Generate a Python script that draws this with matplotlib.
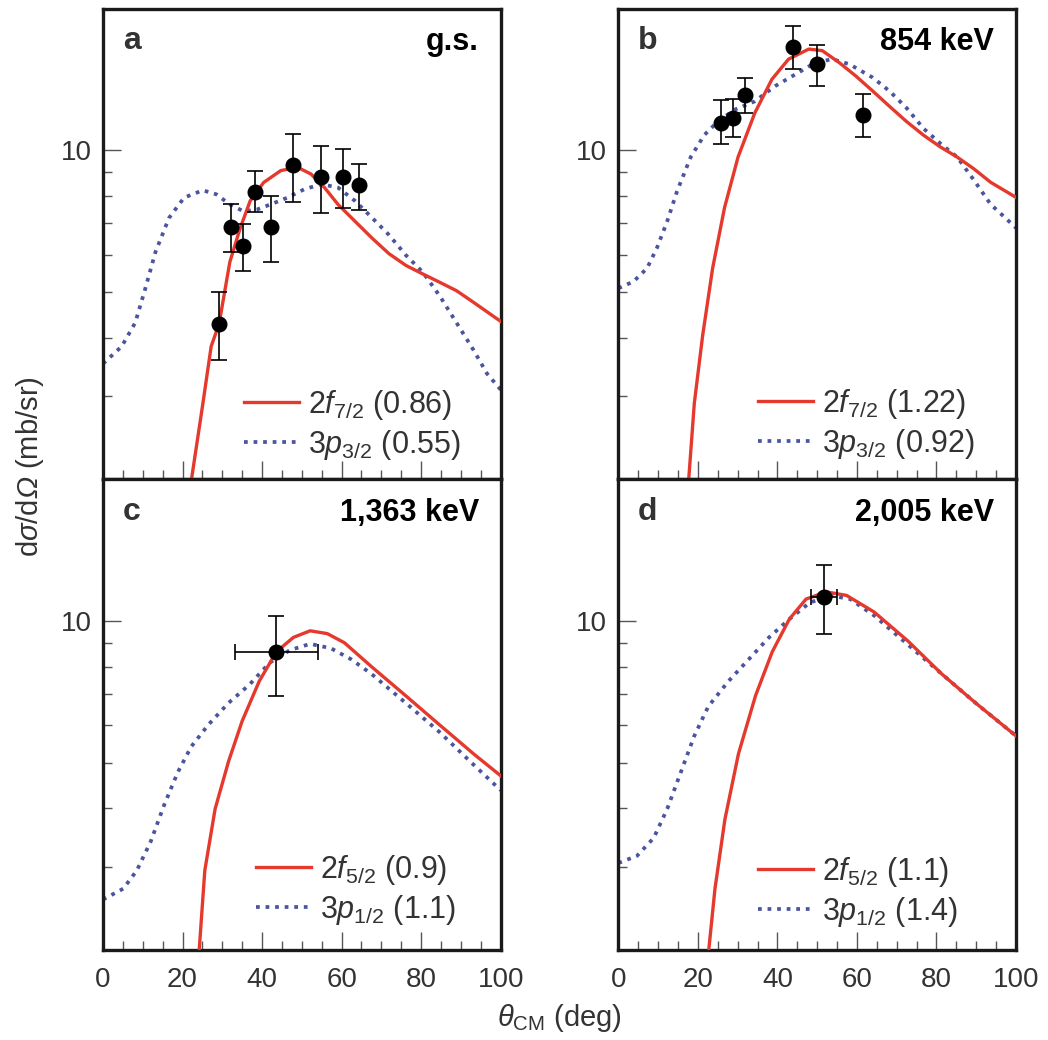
import numpy as np
from matplotlib import pyplot as plt
from matplotlib.ticker import FixedLocator, NullFormatter, FixedFormatter

plt.rcParams['font.family'] = ['Liberation Sans', 'DejaVu Sans']
plt.rcParams['mathtext.fontset'] = 'custom'
plt.rcParams['mathtext.rm'] = 'Liberation Sans'
plt.rcParams['mathtext.it'] = 'Liberation Sans:italic'
plt.rcParams['mathtext.cal'] = 'Liberation Sans:italic'
plt.rcParams['mathtext.bf'] = 'Liberation Sans:bold'

# --- panel a : g.s. ---
a_theta = [29.2, 32.2, 35.1, 38.1, 42.3, 47.7, 54.9, 60.3, 64.5]
a_xs = [4.28, 6.87, 6.26, 8.17, 6.87, 9.31, 8.76, 8.76, 8.43]
a_hi = [4.99, 7.67, 6.97, 9.05, 8.00, 10.83, 10.22, 10.05, 9.36]
a_lo = [3.59, 6.07, 5.55, 7.40, 5.79, 7.78, 7.34, 7.55, 7.48]
a_red_theta = [22.1, 25.1, 27.2, 29.2, 31.9, 34.5, 37.0, 40.4, 44.7, 48.9, 52.3,
               55.7, 59.1, 63.4, 67.7, 71.9, 76.2, 80.4, 84.7, 88.9, 93.2, 100]
a_red = [1.96, 2.89, 3.83, 4.28, 5.79, 6.83, 7.80, 8.54, 9.05, 9.20, 8.90,
         8.33, 7.67, 7.06, 6.50, 6.03, 5.69, 5.46, 5.24, 5.03, 4.75, 4.33]
a_blue_theta = [0, 4.7, 8.1, 10.6, 13.2, 16.6, 20.4, 25.1, 28.5, 31.9, 35.3, 38.7,
                42.1, 46.4, 50.6, 54.9, 59.1, 63.4, 67.7, 71.9, 76.2, 80.4, 84.7,
                88.9, 93.2, 96.6, 100]
a_blue = [3.52, 3.83, 4.30, 5.07, 6.08, 7.18, 7.93, 8.22, 8.06, 7.67, 7.42, 7.48,
          7.67, 7.93, 8.26, 8.47, 8.33, 7.80, 7.18, 6.61, 5.98, 5.51, 4.90,
          4.30, 3.76, 3.35, 3.10]

# --- panel b : 854 keV ---
b_theta = [25.8, 28.8, 31.9, 43.8, 50.0, 61.4]
b_xs = [11.45, 11.70, 13.13, 16.54, 15.23, 11.89]
b_hi = [12.81, 12.85, 14.21, 18.35, 16.76, 13.19]
b_lo = [10.30, 10.65, 11.99, 14.91, 13.68, 10.65]
b_red_theta = [17.6, 19.1, 21.2, 23.7, 26.7, 30.1, 34.3, 38.6, 42.8, 47.9, 51.3,
               55.5, 59.7, 64.0, 68.2, 72.5, 76.7, 80.9, 85.2, 89.4, 93.6, 100]
b_red = [1.95, 2.90, 4.04, 5.61, 7.55, 9.67, 11.99, 14.14, 15.61, 16.40, 16.27,
         15.36, 14.38, 13.35, 12.39, 11.50, 10.77, 10.17, 9.67, 9.13, 8.55, 7.94]
b_blue_theta = [0, 3.8, 7.2, 9.7, 12.3, 14.8, 18.2, 21.6, 25.0, 29.2, 34.3, 39.4,
                44.5, 49.6, 53.8, 58.1, 64.0, 68.2, 72.5, 76.7, 81.0, 85.2, 89.5,
                93.6, 100]
b_blue = [5.09, 5.26, 5.61, 6.20, 7.07, 8.20, 9.67, 10.77, 11.50, 12.19, 12.70,
          13.68, 14.49, 15.36, 15.61, 15.23, 14.26, 13.35, 12.29, 11.13, 10.33,
          9.67, 8.62, 7.68, 6.84]

# --- panel c : 1,363 keV ---
c_theta = [43.6]
c_theta_lo = [33.1]
c_theta_hi = [54.1]
c_xs = [8.60]
c_hi = [10.27]
c_lo = [6.94]
c_red_theta = [24.1, 25.6, 28.2, 31.6, 35.0, 39.3, 43.6, 47.9, 52.1, 56.4, 60.7,
               67.5, 76.1, 84.6, 93.2, 100]
c_red = [1.95, 2.95, 3.99, 5.04, 6.13, 7.45, 8.60, 9.23, 9.53, 9.40, 8.99,
         8.00, 6.94, 6.02, 5.22, 4.69]
c_blue_theta = [0, 5.1, 8.5, 12.0, 15.4, 18.8, 22.2, 26.5, 31.6, 36.8, 41.9, 47.0,
                52.1, 57.3, 62.4, 67.5, 76.1, 84.6, 93.2, 100]
c_blue = [2.56, 2.70, 2.95, 3.40, 4.07, 4.77, 5.41, 6.02, 6.70, 7.32, 8.15, 8.67,
          8.94, 8.75, 8.29, 7.72, 6.70, 5.81, 4.95, 4.37]

# --- panel d : 2,005 keV ---
d_theta = [51.7]
d_theta_lo = [48.5]
d_theta_hi = [54.9]
d_xs = [11.23]
d_hi = [13.13]
d_lo = [9.40]
d_red_theta = [22.6, 24.3, 26.8, 30.2, 34.5, 38.7, 43.0, 47.2, 52.3, 57.4, 64.3,
               72.8, 81.3, 89.8, 100]
d_red = [1.95, 2.70, 3.79, 5.22, 6.94, 8.60, 10.09, 11.13, 11.53, 11.33, 10.45,
         9.07, 7.72, 6.70, 5.70]
d_blue_theta = [0, 4.7, 8.9, 12.3, 15.7, 19.1, 22.6, 27.7, 32.8, 37.9, 43.0, 48.1,
                53.2, 58.3, 64.3, 72.8, 81.3, 89.8, 100]
d_blue = [3.06, 3.17, 3.46, 3.99, 4.77, 5.70, 6.58, 7.45, 8.29, 9.23, 10.09, 10.93,
          11.33, 11.13, 10.27, 8.91, 7.72, 6.70, 5.70]

letters = ["a", "b", "c", "d"]
states = ["g.s.", "854 keV", "1,363 keV", "2,005 keV"]
red_labels = [r"$2f_{7/2}$ (0.86)", r"$2f_{7/2}$ (1.22)",
              r"$2f_{5/2}$ (0.9)", r"$2f_{5/2}$ (1.1)"]
blue_labels = [r"$3p_{3/2}$ (0.55)", r"$3p_{3/2}$ (0.92)",
               r"$3p_{1/2}$ (1.1)", r"$3p_{1/2}$ (1.4)"]

RED = "#e5392d"
BLUE = "#4b559e"
GREY = "#333333"

panels = [
    (a_theta, None, None, a_xs, a_lo, a_hi, a_red_theta, a_red, a_blue_theta, a_blue),
    (b_theta, None, None, b_xs, b_lo, b_hi, b_red_theta, b_red, b_blue_theta, b_blue),
    (c_theta, c_theta_lo, c_theta_hi, c_xs, c_lo, c_hi, c_red_theta, c_red, c_blue_theta, c_blue),
    (d_theta, d_theta_lo, d_theta_hi, d_xs, d_lo, d_hi, d_red_theta, d_red, d_blue_theta, d_blue),
]
leg_pos = [(0.355, 0.115), (0.350, 0.118), (0.384, 0.128), (0.351, 0.124)]

fig = plt.figure(figsize=(10.48, 10.40), dpi=100)
gs = fig.add_gridspec(2, 2, left=103 / 1048, right=1016 / 1048,
                      top=1 - 8.5 / 1040, bottom=1 - 950 / 1040,
                      hspace=0, wspace=0.296)

for i, (th, thlo, thhi, xs, lo, hi, rth, rv, bth, bv) in enumerate(panels):
    ax = fig.add_subplot(gs[i // 2, i % 2])
    ax.set_yscale("log")
    ax.set_xlim(0, 100)
    ax.set_ylim(2, 20)

    ax.plot(rth, rv, color=RED, lw=2.4, label=red_labels[i], zorder=3)
    ax.plot(bth, bv, color=BLUE, lw=2.7, linestyle=(0, (1.0, 1.55)),
            label=blue_labels[i], zorder=2)

    xs_arr = np.array(xs)
    yerr = [xs_arr - np.array(lo), np.array(hi) - xs_arr]
    xerr = None
    if thlo is not None:
        th_arr = np.array(th)
        xerr = [th_arr - np.array(thlo), np.array(thhi) - th_arr]
    ax.errorbar(th, xs, yerr=yerr, xerr=xerr, fmt="o", color="black",
                ms=10.5, elinewidth=1.2, capsize=6, capthick=1.2, zorder=4)

    # axes style
    for sp in ax.spines.values():
        sp.set_linewidth(2.4)
        sp.set_color("#1a1a1a")
    ax.xaxis.set_major_locator(FixedLocator([0, 20, 40, 60, 80, 100]))
    ax.xaxis.set_minor_locator(FixedLocator(np.arange(0, 101, 5)))
    ax.yaxis.set_major_locator(FixedLocator([10]))
    ax.yaxis.set_major_formatter(FixedFormatter(["10"]))
    ax.yaxis.set_minor_locator(FixedLocator([2, 3, 4, 5, 6, 7, 8, 9, 20]))
    ax.yaxis.set_minor_formatter(NullFormatter())
    ax.tick_params(which="both", direction="in", color="#555555", width=1.0,
                   top=False, right=False, labelcolor=GREY, labelsize=20)
    ax.tick_params(which="major", length=13)
    ax.tick_params(which="minor", length=6.5)
    ax.tick_params(axis="x", pad=12)
    ax.tick_params(axis="y", pad=8)
    if i < 2:
        ax.tick_params(axis="x", labelbottom=False)

    ax.text(0.05, 0.93, letters[i], transform=ax.transAxes, fontsize=23,
            fontweight="bold", color=GREY, ha="left", va="center")
    ax.text(0.945, 0.928, states[i], transform=ax.transAxes, fontsize=22,
            fontweight="bold", color="black", ha="right", va="center")

    leg = ax.legend(loc="center left", bbox_to_anchor=leg_pos[i], frameon=False,
                    fontsize=22, handlelength=1.8, handletextpad=0.3,
                    labelspacing=0.2, borderpad=0, borderaxespad=0)
    for t in leg.get_texts():
        t.set_color(GREY)

fig.text(30 / 1048, 1 - 467 / 1040, r"d$\sigma$/d$\mathcal{\Omega}$ (mb/sr)",
         rotation=90, ha="center", va="center", fontsize=21, color=GREY)
fig.text(559 / 1048, 1 - 1018 / 1040, r"$\theta_{\mathrm{CM}}$ (deg)",
         ha="center", va="center", fontsize=21, color=GREY)

plt.savefig("out.png", dpi=100)
